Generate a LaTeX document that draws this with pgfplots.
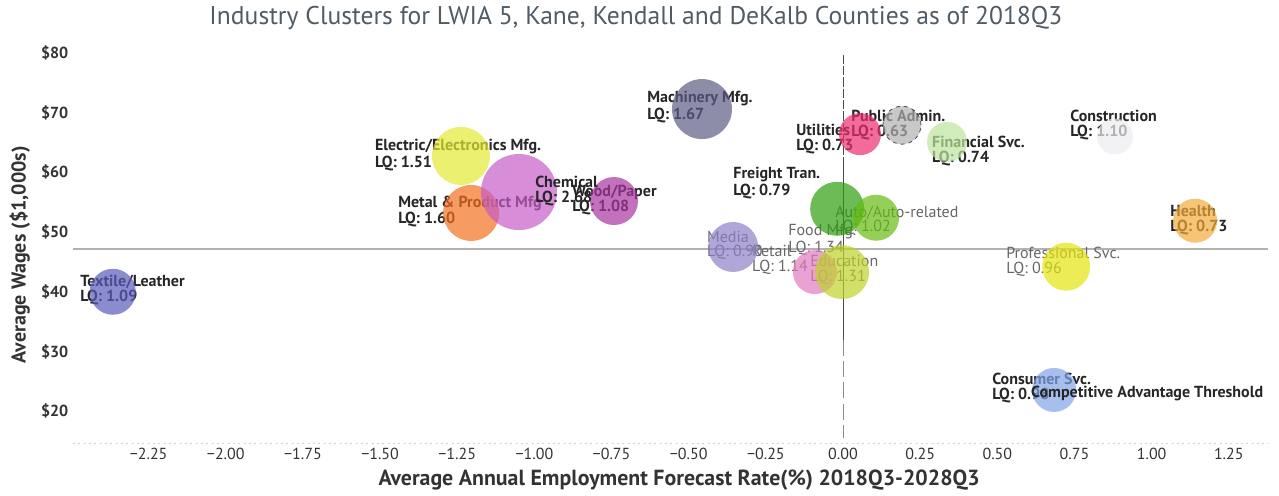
\documentclass[border=0pt]{standalone}
\usepackage{pgfplots}
\pgfplotsset{compat=1.18}
\usepackage{fontspec}
\setmainfont{PT Sans}
\definecolor{cTex}{HTML}{5A5ABC}
\definecolor{cEle}{HTML}{E4EA33}
\definecolor{cMet}{HTML}{F27020}
\definecolor{cChe}{HTML}{C75CC7}
\definecolor{cWoo}{HTML}{A8369F}
\definecolor{cMac}{HTML}{5C5C86}
\definecolor{cMed}{HTML}{9080C8}
\definecolor{cGrn}{HTML}{2E9E10}
\definecolor{cAut}{HTML}{66BB10}
\definecolor{cPnk}{HTML}{EC2C70}
\definecolor{cPub}{HTML}{B0B0B0}
\definecolor{cFin}{HTML}{BCE49D}
\definecolor{cCon}{HTML}{EDEDF1}
\definecolor{cHea}{HTML}{F2AB3B}
\definecolor{cPro}{HTML}{E4E410}
\definecolor{cRet}{HTML}{E17ABF}
\definecolor{cEdu}{HTML}{BFD12A}
\definecolor{cCsm}{HTML}{80A4E7}
\definecolor{lblDark}{HTML}{262626}
\definecolor{lblGrey}{HTML}{666666}
\definecolor{titleC}{HTML}{505B66}
\pgfplotsset{
  bub/.style n args={2}{only marks, mark=*, forget plot, mark size=#1,
    mark options={fill=#2, draw opacity=0, fill opacity=0.7}},
  lab/.style={draw=none, mark=none, forget plot, nodes near coords={#1},
    nodes near coords align={anchor=west},
    every node near coord/.append style={anchor=west, align=left, inner sep=0pt,
      font=\fontsize{12}{11}\selectfont\bfseries, text=lblDark}},
  labg/.style={draw=none, mark=none, forget plot, nodes near coords={#1},
    nodes near coords align={anchor=west},
    every node near coord/.append style={anchor=west, align=left, inner sep=0pt,
      font=\fontsize{12}{11}\selectfont, text=lblGrey}},
}
\begin{document}
\begin{tikzpicture}
\begin{axis}[
  scale only axis, width=896.25pt, height=301.5pt,
  xmin=-2.495, xmax=1.377, ymin=14.67, ymax=82.0,
  clip=false,
  axis lines*=left,
  x axis line style={draw=gray!35, dash pattern=on 1.5pt off 2.5pt},
  y axis line style={draw=none},
  major tick length=0pt,
  xtick={-2.25,-2,-1.75,-1.5,-1.25,-1,-0.75,-0.5,-0.25,0,0.25,0.5,0.75,1,1.25},
  xticklabels={−2.25,−2.00,−1.75,−1.50,−1.25,−1.00,−0.75,−0.50,−0.25,0.00,0.25,0.50,0.75,1.00,1.25},
  ytick={20,30,40,50,60,70,80},
  yticklabels={\$20,\$30,\$40,\$50,\$60,\$70,\$80},
  xticklabel style={font=\fontsize{12}{13}\selectfont, text=black!80},
  yticklabel style={font=\fontsize{12}{14}\selectfont\bfseries, text=black!80},
  title={Industry Clusters for LWIA 5, Kane, Kendall and DeKalb Counties as of 2018Q3},
  every axis title/.style={at={(axis cs:-0.671,85.86)}, anchor=center,
    font=\fontsize{19.2}{21}\selectfont, text=titleC},
  xlabel={Average Annual Employment Forecast Rate(\%) 2018Q3-2028Q3},
  every axis x label/.style={at={(axis cs:-0.531,8.47)}, anchor=center,
    font=\fontsize{16.4}{18}\selectfont\bfseries, text=black!80},
  ylabel={Average Wages (\$1,000s)},
  every axis y label/.style={at={(axis cs:-2.667,46.2)}, anchor=center, rotate=90,
    font=\fontsize{15}{17}\selectfont\bfseries, text=black!80},
]
\coordinate (pa) at (rel axis cs:0,0);
% reference lines
\addplot[gray!60, line width=1.2pt, forget plot] coordinates {(-2.495,47.2) (1.377,47.2)};
\addplot[black!70, line width=0.7pt, dash pattern=on 7pt off 1.5pt, forget plot] coordinates {(0,79.7) (0,61.5)};
\addplot[black!70, line width=0.7pt, forget plot] coordinates {(0,61.5) (0,32)};
\addplot[black!45, line width=0.6pt, dash pattern=on 12pt off 4pt, forget plot] coordinates {(0,32) (0,15.5)};
% labels (drawn under the bubbles)
\addplot[lab={Textile/Leather\\LQ: 1.09}] coordinates {(-2.472,40.3)};
\addplot[lab={Electric/Electronics Mfg.\\LQ: 1.51}] coordinates {(-1.517,62.9)};
\addplot[lab={Metal \& Product Mfg\\LQ: 1.60}] coordinates {(-1.442,53.5)};
\addplot[lab={Wood/Paper\\LQ: 1.08}] coordinates {(-0.878,55.4)};
\addplot[lab={Machinery Mfg.\\LQ: 1.67}] coordinates {(-0.635,70.95)};
\addplot[labg={Media\\LQ: 0.90}] coordinates {(-0.441,47.8)};
\addplot[lab={Freight Tran.\\LQ: 0.79}] coordinates {(-0.356,58.2)};
\addplot[labg={Auto/Auto-related\\LQ: 1.02}] coordinates {(-0.026,52.0)};
\addplot[lab={Utilities\\LQ: 0.73}] coordinates {(-0.152,65.6)};
\addplot[lab={Public Admin.\\LQ: 0.63}] coordinates {(0.026,67.9)};
\addplot[lab={Financial Svc.\\LQ: 0.74}] coordinates {(0.288,63.6)};
\addplot[lab={Construction\\LQ: 1.10}] coordinates {(0.736,67.9)};
\addplot[lab={Health\\LQ: 0.73}] coordinates {(1.060,52.0)};
\addplot[labg={Professional Svc.\\LQ: 0.96}] coordinates {(0.528,45.0)};
\addplot[labg={Food Mfg.\\LQ: 1.34}] coordinates {(-0.178,48.7)};
\addplot[labg={Retail\\LQ: 1.14}] coordinates {(-0.295,45.3)};
\addplot[labg={Education\\LQ: 1.31}] coordinates {(-0.107,43.7)};
\addplot[lab={Consumer Svc.\\LQ: 0.98}] coordinates {(0.483,23.9)};
% bubbles
\addplot[bub={17.25pt}{cTex}] coordinates {(-2.366,40.0)};
\addplot[bub={21.75pt}{cEle}] coordinates {(-1.238,62.75)};
\addplot[bub={21pt}{cMet}] coordinates {(-1.205,53.2)};
\addplot[bub={28.5pt}{cChe}] coordinates {(-1.050,56.7)};
\addplot[bub={18pt}{cWoo}] coordinates {(-0.742,55.2)};
\addplot[bub={22.5pt}{cMac}] coordinates {(-0.457,70.6)};
\addplot[bub={18.75pt}{cMed}] coordinates {(-0.356,47.5)};
\addplot[bub={20.25pt}{cGrn}] coordinates {(-0.019,53.9)};
\addplot[bub={17.25pt}{cAut}] coordinates {(0.107,52.4)};
\addplot[bub={15.75pt}{cPnk}] coordinates {(0.055,66.4)};
\addplot[only marks, mark=*, forget plot, mark size=14.25pt,
  mark options={fill=cPub, draw=black!70, dashed, line width=0.6pt, fill opacity=0.7}] coordinates {(0.191,67.9)};
\addplot[bub={15pt}{cFin}] coordinates {(0.337,65.1)};
\addplot[bub={13.5pt}{cCon}] coordinates {(0.881,66.0)};
\addplot[bub={16.5pt}{cHea}] coordinates {(1.141,51.9)};
\addplot[bub={18pt}{cPro}] coordinates {(0.723,44.2)};
\addplot[bub={16.5pt}{cRet}] coordinates {(-0.091,43.3)};
\addplot[bub={20.25pt}{cEdu}] coordinates {(-0.003,43.3)};
\addplot[bub={16.5pt}{cCsm}] coordinates {(0.684,23.55)};
% labels drawn on top
\addplot[lab={Chemical\\LQ: 2.68}] coordinates {(-0.998,56.9)};
\addplot[lab={Competitive Advantage Threshold}] coordinates {(0.609,22.9)};
\end{axis}
\pgfresetboundingbox
\path (pa) ++(-54.75pt,-39.75pt) rectangle ++(959.25pt,372pt);
\end{tikzpicture}
\end{document}
